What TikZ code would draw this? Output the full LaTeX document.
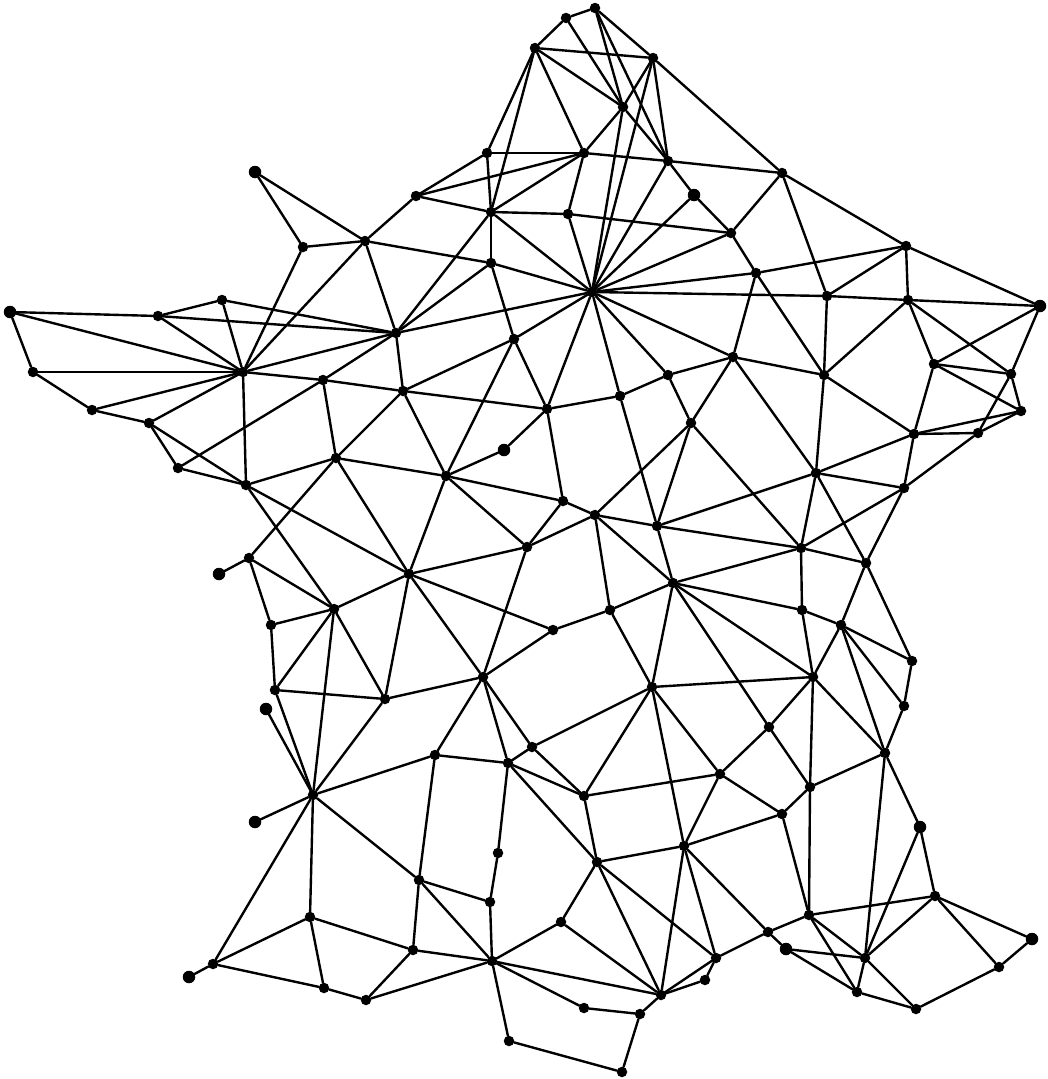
\documentclass[tikz,border=0pt]{standalone}
\tikzset{
  dot/.style={circle,fill=black,draw=none,inner sep=0pt,minimum size=10.5pt},
  bigdot/.style={dot,minimum size=12.5pt},
  link/.style={draw=black,line width=2.4pt,line cap=round}
}
\begin{document}
\begin{tikzpicture}[x=1pt,y=-1pt]
\useasboundingbox[fill=white] (0,0) rectangle (1048,1079);
\foreach \n/\x/\y in {
 a1/595/8,a2/566/18,a3/535/48,a4/653/58,a5/623/107,a6/487/153,a7/584/153,a8/668/161,a9/782/173,
 a11/416/196,a12/491/212,a13/568/214,a14/731/233,a15/491/263,P/592/292,a16/906/246,a17/756/273,
 a18/827/296,a19/908/300,
 b2/303/247,b3/365/241,b4/222/300,b5/158/316,b7/396/333,b8/33/372,b9/243/372,b10/92/410,
 b11/149/423,b12/178/468,b13/246/485,b14/323/380,b15/403/391,b16/336/458,
 c1/514/339,c2/547/409,c3/620/396,c4/668/375,c5/733/357,c6/824/375,c7/691/423,
 c9/446/476,c10/563/501,c11/595/515,c12/657/526,c13/527/547,c14/409/574,c15/673/583,
 e1/934/364,e2/1011/374,e3/1021/411,e4/914/434,e5/978/433,e6/816/473,e7/904/488,e8/801/548,e9/866/563,
 d1/610/610,d2/553/630,d3/483/677,d4/652/687,d5/813/677,d6/802/610,d7/841/625,d8/912/661,d9/904/706,
 d10/769/727,d11/885/753,d12/720/774,d13/810/787,d14/782/814,d16/532/747,d17/508/763,d18/584/796,
 d19/684/846,d20/597/862,d21/498/853,
 f1/249/558,f3/334/609,f4/271/625,f5/275/690,f6/385/699,f8/313/795,f10/435/755,
 g1/419/880,g2/490/902,g3/310/917,g4/561/922,g5/413/950,g6/492/961,g7/213/964,g9/324/988,g10/366/1000,
 g11/716/958,g12/705/980,g13/661/995,g14/584/1008,g15/640/1014,g16/509/1041,g17/622/1072,
 h1/935/896,h2/809/915,h3/768/932,h5/865/958,h7/999/967,h8/857/992,h9/916/1009}
  \node[dot] (\n) at (\x,\y) {};
\foreach \n/\x/\y in {a10/694/195,a20/1040/306,b1/255/172,b6/10/312,c8/504/450,f2/219/574,f7/266/709,
 f9/255/822,g8/189/977,d15/920/827,h4/786/949,h6/1032/939}
  \node[bigdot] (\n) at (\x,\y) {};
\foreach \s/\t in {
 a1/a2,a2/a3,a1/a4,a3/a4,a3/a5,a3/a7,a3/a6,a3/a12,a2/a5,a5/a8,a1/a5,a1/a8,a4/a5,a4/a8,a4/a9,a4/P,a5/a7,a5/P,
 a6/a7,a6/a11,a6/a12,a7/a8,a7/a11,a7/a12,a7/a13,a8/a9,a8/a10,a8/P,a9/a14,a9/a16,a9/a18,a10/a14,a10/P,
 a11/a12,a11/b3,a12/a13,a12/a15,a12/P,a12/b7,a13/a14,a13/P,a14/P,a14/a17,a15/P,a15/b3,a15/b7,a15/c1,
 P/a17,a17/a16,P/a18,a18/a19,a19/a20,a18/a16,a16/a19,a16/a20,a17/c5,a17/c6,a18/c6,a19/c6,a19/e1,a19/e2,
 a20/e1,a20/e2,e1/e2,e1/e3,e2/e3,e2/e5,e3/e4,e3/e5,e4/e5,e1/e4,e4/c6,e4/e6,e4/e7,e5/e7,e6/e7,c6/e6,c5/c6,c5/e6,
 c5/c7,P/c5,c5/c4,c4/P,c4/c3,c4/c7,c3/P,c3/c2,P/c2,c3/c12,c7/c12,c7/c11,c7/e8,c1/P,c1/c2,c1/b15,c1/c9,
 P/b7,c2/b15,c2/c8,c2/c10,c8/c9,b15/c9,b15/b14,b15/b7,b15/b16,b14/b9,b14/b7,b12/b14,b14/b16,c9/b16,c9/c14,c9/c13,
 c9/c10,c10/c11,c10/c13,c11/c13,c11/c12,c11/c15,c11/d1,c12/e8,c12/e6,c12/c15,c15/e8,e8/e6,e8/e9,e6/e9,e8/e7,e7/e9,
 e8/d6,c15/d6,c15/d5,c15/d10,c15/d4,c15/d1,d1/d2,d1/d4,d2/d3,c14/d2,c13/d3,c13/c14,c14/d3,c14/f3,c14/f6,d3/f6,
 b13/c14,b16/c14,b16/b13,b13/b9,b13/b11,b13/b12,b16/f1,b13/f3,f1/f2,f1/f3,f1/f4,f3/f4,f3/f5,f3/f6,f3/f8,f4/f5,f5/f6,
 f5/f8,f6/f8,f7/f8,f8/f9,f8/f10,f8/g1,f8/g3,f8/g7,f10/d3,f10/d17,f10/g1,g1/g2,g1/g5,g1/g6,g5/g3,g5/g6,g5/g10,g3/g7,
 g3/g9,g7/g8,g7/g9,g9/g10,g10/g6,g6/g2,g2/d21,d21/d17,g6/g4,g6/g13,g6/g14,g6/g16,g16/g17,g17/g15,g14/g15,g15/g13,
 g13/g4,g13/d20,g13/d19,g13/g11,g13/g12,g12/g11,g4/d20,d20/g11,d19/g11,d20/d19,d17/d16,d16/d3,d16/d4,d3/d17,d17/d18,
 d17/d20,d16/d18,d18/d4,d18/d20,d18/d12,d4/d12,d4/d19,d4/d5,d5/d6,d5/d7,d5/d10,d5/d11,d5/d13,d13/h2,d6/d7,d7/e9,d7/d8,
 d7/d9,d7/d11,d8/d9,d8/e9,d9/d11,d11/d13,d11/d15,d11/h5,d10/d12,d10/d13,d12/d14,d12/d19,d13/d14,d14/d19,d14/h2,d19/h3,
 g11/h3,h3/h2,h3/h4,h2/h1,h2/h5,h2/h8,h4/h5,h4/h8,h5/h1,h5/h8,h5/h9,h1/h6,h1/h7,h1/d15,h5/d15,h6/h7,h7/h9,h9/h8,
 b1/b2,b1/b3,b2/b3,b2/b9,b3/b9,b3/b7,b4/b5,b4/b7,b4/b9,b5/b6,b5/b7,b5/b9,b6/b8,b6/b9,b8/b9,b8/b10,b10/b9,b10/b11,
 b11/b9,b11/b12,b9/b7}
  \draw[link] (\s) -- (\t);
\end{tikzpicture}
\end{document}
